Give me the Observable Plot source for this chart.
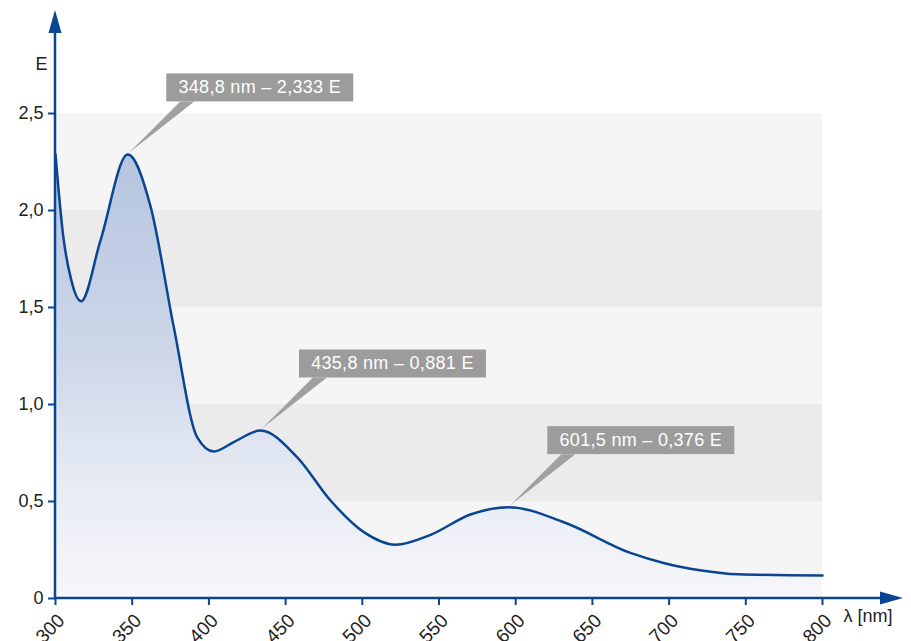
<!DOCTYPE html>
<html>
<head>
<meta charset="utf-8">
<script src="https://cdn.jsdelivr.net/npm/d3@7"></script>
<script src="https://cdn.jsdelivr.net/npm/@observablehq/plot@0.6"></script>
<style>
  html, body { margin: 0; padding: 0; background: #ffffff; }
  #chart { width: 911px; height: 641px; overflow: hidden; }
</style>
</head>
<body>
<div id="chart"></div>
<script>
// ---- data ----
const wavelength = [300, 305, 310, 316.7, 329.3, 347.1, 362, 377.1, 392.4, 403.2, 416.2, 433.6, 457.6, 479.3, 501, 521.6, 544.5, 570.5, 595.5, 631.4, 674.8, 697, 720, 745, 800];
const absorbance = [2.29, 1.87, 1.65, 1.532, 1.845, 2.289, 2.02, 1.399, 0.831, 0.758, 0.806, 0.866, 0.728, 0.505, 0.342, 0.277, 0.328, 0.433, 0.471, 0.393, 0.235, 0.182, 0.146, 0.125, 0.118];
const xTicks = [300, 350, 400, 450, 500, 550, 600, 650, 700, 750, 800];
const yTicks = [0, 0.5, 1, 1.5, 2, 2.5];
const yTickLabels = ["0", "0,5", "1,0", "1,5", "2,0", "2,5"];
const peakLabels = ["348,8 nm – 2,333 E", "435,8 nm – 0,881 E", "601,5 nm – 0,376 E"];
const yAxisTitle = "E";
const xAxisTitle = "λ [nm]";

// ---- tables built from the arrays ----
const spectrum = wavelength.map((w, i) => ({w, e: absorbance[i]}));
const bands = yTicks.slice(0, -1).map((v, i) => ({y1: v, y2: yTicks[i + 1], i}));
const peaks = spectrum
  .map((d, i) => ({...d, i}))
  .filter(d => d.i > 0 && d.i < spectrum.length - 1 && d.e > spectrum[d.i - 1].e && d.e > spectrum[d.i + 1].e)
  .map((d, k) => ({...d, label: peakLabels[k]}));

const blue = "#0a4592";
const font = "'Liberation Sans', Arial, Helvetica, sans-serif";

function gradientDefs() {
  const svg = d3.create("svg:defs");
  const g = svg.append("linearGradient").attr("id", "absGrad")
    .attr("x1", 0).attr("y1", 0).attr("x2", 0).attr("y2", 1);
  g.append("stop").attr("offset", "0%").attr("stop-color", "#b5c4df");
  g.append("stop").attr("offset", "45%").attr("stop-color", "#cdd7e9");
  g.append("stop").attr("offset", "75%").attr("stop-color", "#e7ebf4");
  g.append("stop").attr("offset", "100%").attr("stop-color", "#f6f7fa");
  return svg.node();
}

function axisLines(index, scales, values, dims) {
  const g = d3.create("svg:g");
  const x0 = scales.x(xTicks[0]);
  const y0 = scales.y(0);
  const xEnd = dims.width - 8;
  const yEnd = 10;
  g.append("line").attr("x1", x0).attr("y1", y0).attr("x2", xEnd - 20).attr("y2", y0)
    .attr("stroke", blue).attr("stroke-width", 2.5);
  g.append("polygon")
    .attr("points", `${xEnd},${y0} ${xEnd - 23},${y0 - 6.5} ${xEnd - 23},${y0 + 6.5}`)
    .attr("fill", blue);
  g.append("line").attr("x1", x0).attr("y1", y0).attr("x2", x0).attr("y2", yEnd + 20)
    .attr("stroke", blue).attr("stroke-width", 2.5);
  g.append("polygon")
    .attr("points", `${x0},${yEnd} ${x0 - 6.5},${yEnd + 23} ${x0 + 6.5},${yEnd + 23}`)
    .attr("fill", blue);
  return g.node();
}

function callouts(index, scales) {
  const g = d3.create("svg:g");
  for (const p of peaks) {
    const tx = scales.x(p.w) + 2;
    const ty = scales.y(p.e) - 1.5;
    const left = tx + 37;
    const bottom = ty - 51;
    const w = 187, h = 28;
    g.append("polygon")
      .attr("points", `${tx},${ty} ${left + 14},${bottom} ${left + 28},${bottom}`)
      .attr("fill", "#a0a0a0");
    g.append("rect").attr("x", left).attr("y", bottom - h).attr("width", w).attr("height", h)
      .attr("fill", "#9c9c9c");
    g.append("text").attr("x", left + w / 2).attr("y", bottom - h / 2)
      .attr("text-anchor", "middle").attr("dominant-baseline", "central")
      .attr("fill", "#ffffff").attr("font-size", "18px").attr("letter-spacing", "0.3px")
      .attr("font-family", font)
      .text(p.label);
  }
  return g.node();
}

const chart = Plot.plot({
  width: 911,
  height: 641,
  marginLeft: 55,
  marginRight: 89,
  marginTop: 113,
  marginBottom: 43,
  style: {fontFamily: font, fontSize: "18px", color: "#222", background: "#ffffff", overflow: "visible"},
  x: {domain: [300, 800], label: null},
  y: {domain: [0, 2.5], label: null},
  marks: [
    Plot.rect(bands, {x1: xTicks[0], x2: xTicks[xTicks.length - 1], y1: "y1", y2: "y2",
      fill: d => d.i % 2 ? "#ebebeb" : "#f5f5f5"}),
    gradientDefs,
    Plot.areaY(spectrum, {x: "w", y: "e", fill: "url(#absGrad)", curve: "monotone-x"}),
    Plot.lineY(spectrum, {x: "w", y: "e", stroke: blue, strokeWidth: 2.5, curve: "monotone-x"}),
    axisLines,
    Plot.axisY({ticks: yTicks, tickFormat: d => yTickLabels[yTicks.indexOf(d)], tickSize: 7,
      tickPadding: 5, stroke: blue, strokeWidth: 2, fill: "#222", fontSize: 18}),
    Plot.axisX({ticks: xTicks, tickFormat: () => "", tickSize: 7, stroke: blue, strokeWidth: 2}),
    Plot.axisX({ticks: xTicks, tickFormat: d => String(d), tickSize: 0, tickRotate: -45,
      tickPadding: 11, dx: 6, dy: 8, fill: "#222", fontSize: 19}),
    callouts,
    Plot.text([yAxisTitle], {frameAnchor: "top-left", dx: -20, dy: -56, fill: "#222", fontSize: 18}),
    Plot.text([xAxisTitle], {frameAnchor: "bottom-right", textAnchor: "start", dx: 21, dy: 23, fill: "#222", fontSize: 18})
  ]
});
document.getElementById("chart").append(chart);
</script>
</body>
</html>
